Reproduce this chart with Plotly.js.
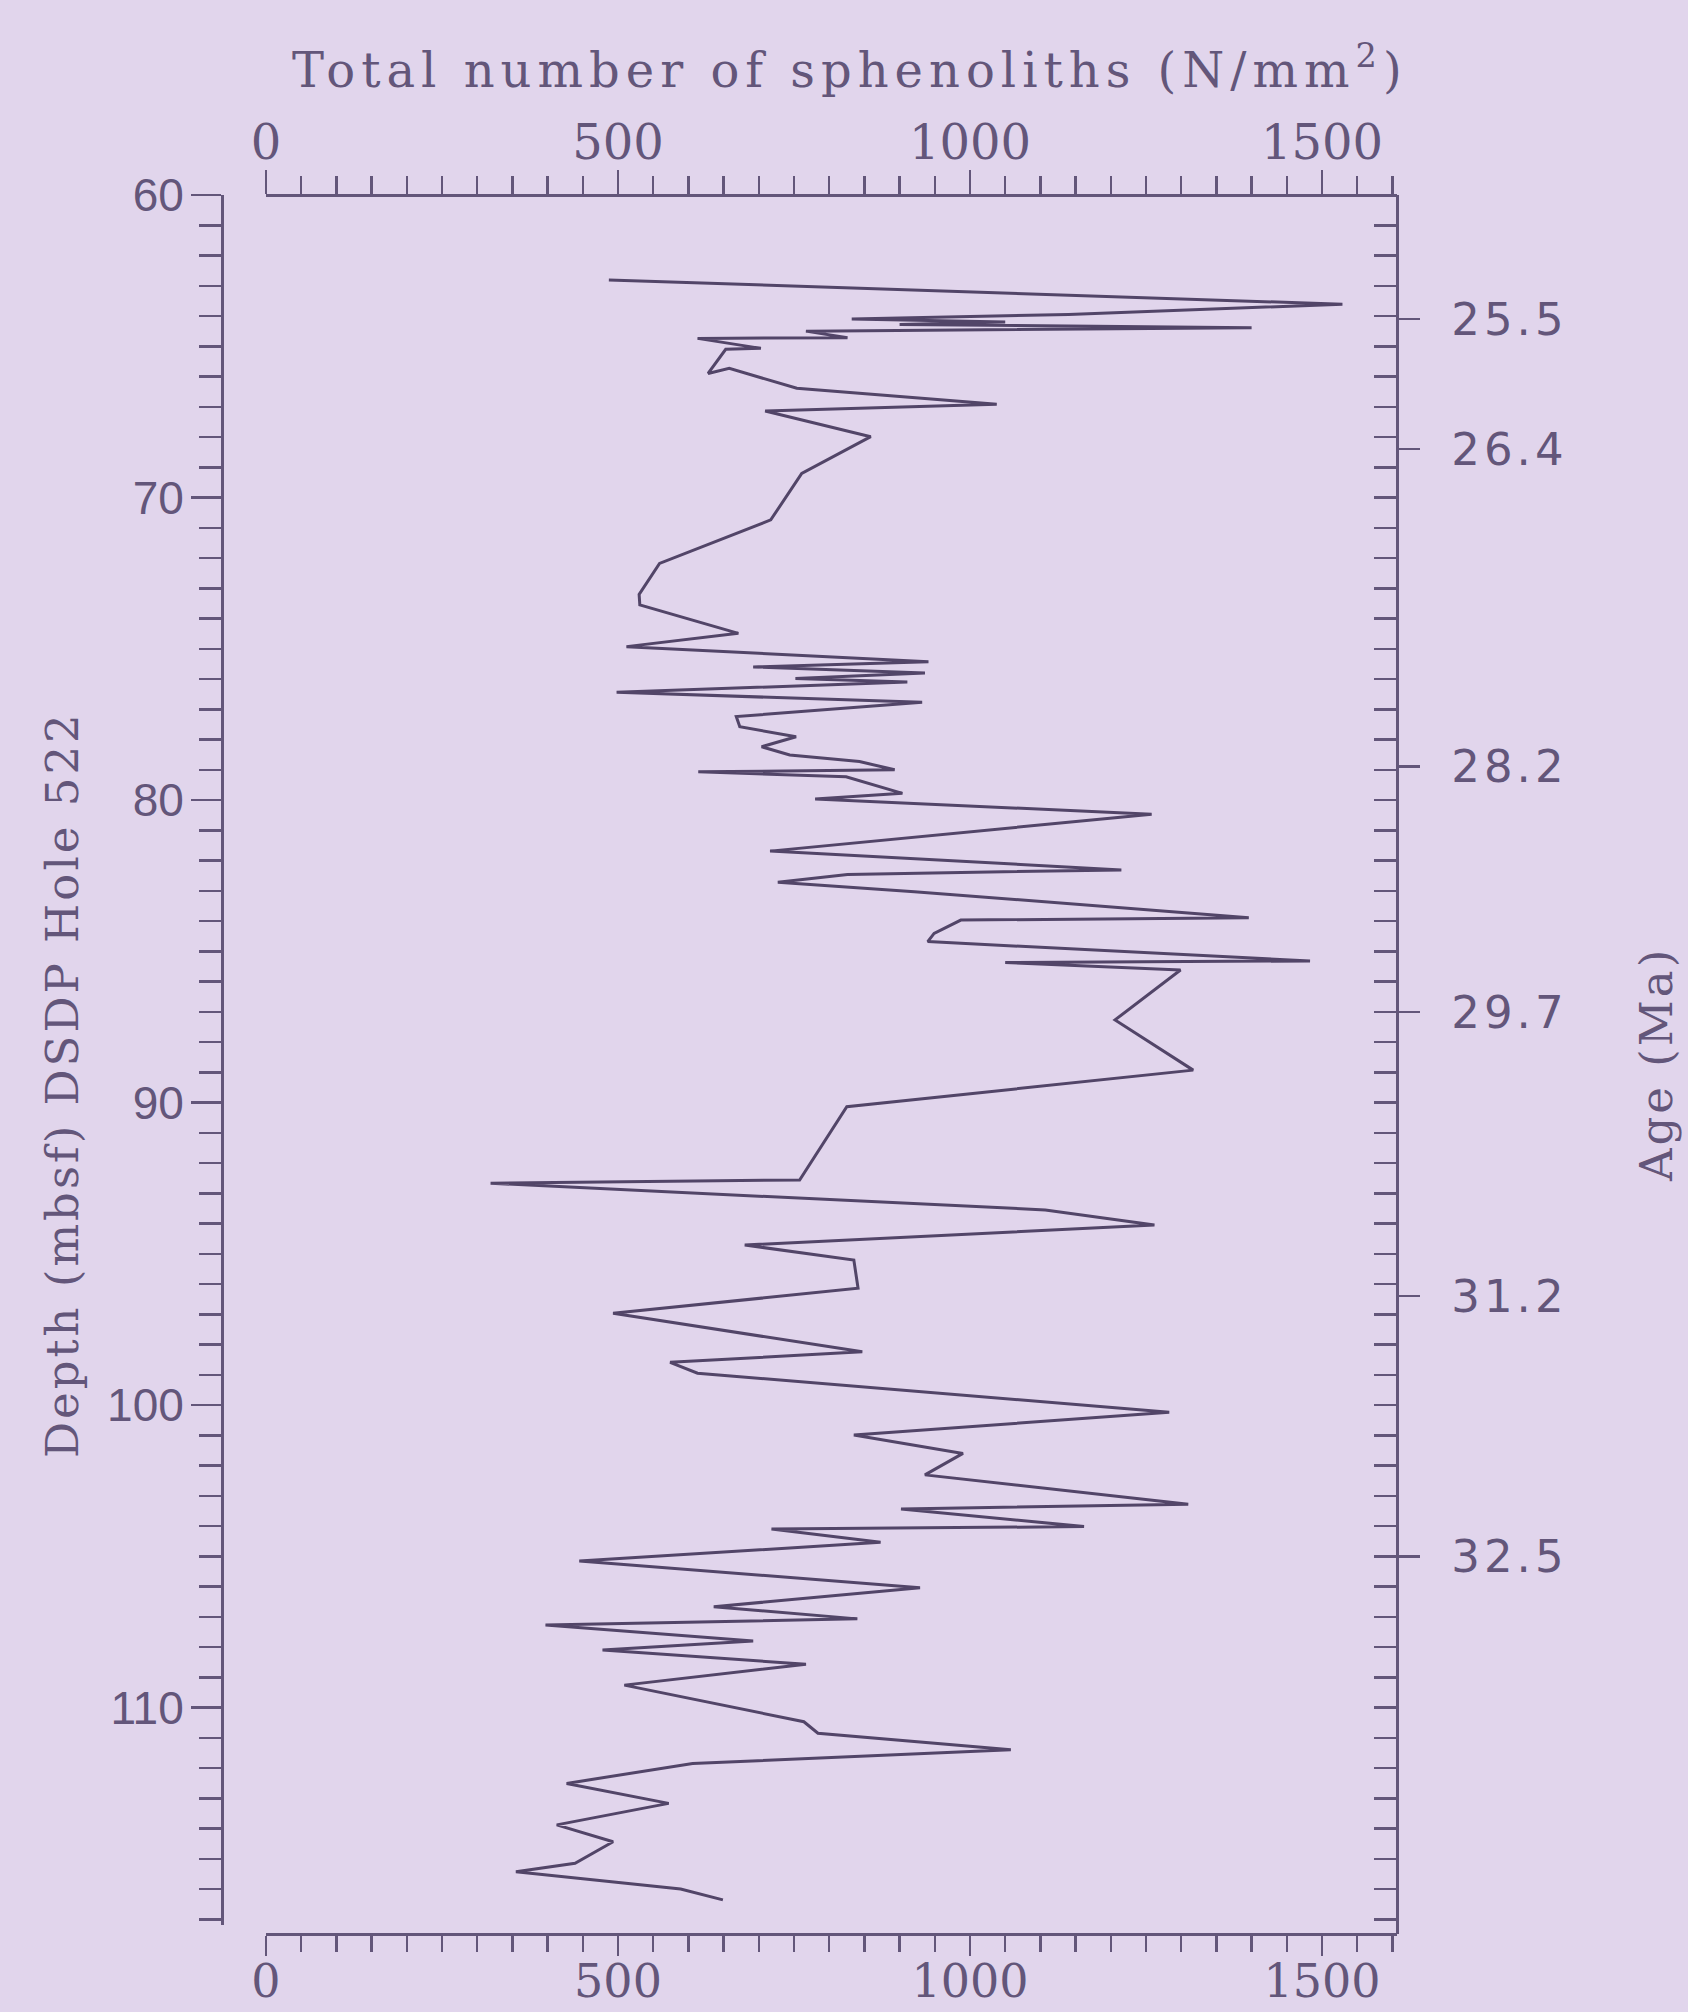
<!DOCTYPE html>
<html><head><meta charset="utf-8">
<script src="https://cdn.plot.ly/plotly-3.0.1.min.js"></script>
<style>html,body{margin:0;padding:0;background:#e1d5ec;}</style>
</head><body><div id="chart" style="width:1688px;height:2012px;"></div>
<script>
// ---- data ----
const depth = [62.81, 63.61, 63.95, 64.10, 64.20, 64.28, 64.39, 64.50, 64.72, 64.74,
  65.07, 65.10, 65.90, 65.73, 66.39, 66.92, 67.14, 67.99, 69.20, 70.74,
  72.18, 73.20, 73.55, 74.49, 74.93, 75.43, 75.60, 75.80, 75.98, 76.10,
  76.44, 76.77, 77.24, 77.58, 77.91, 78.24, 78.51, 78.73, 79.00, 79.07,
  79.23, 79.78, 79.97, 80.47, 81.69, 82.31, 82.46, 82.72, 83.03, 83.89,
  83.97, 84.41, 84.68, 85.32, 85.37, 85.62, 87.27, 88.93, 90.14, 92.56,
  92.67, 93.55, 94.05, 94.71, 95.21, 96.14, 96.97, 98.24, 98.59, 98.95,
  100.24, 100.99, 101.60, 102.31, 103.28, 103.44, 104.02, 104.10, 104.54, 105.16,
  106.04, 106.67, 107.07, 107.27, 107.80, 108.10, 108.57, 109.26, 110.47, 110.85,
  111.40, 111.85, 112.51, 113.17, 113.88, 114.44, 115.15, 115.43, 116.00, 116.36];
const sphenoliths = [487, 1529, 1140, 832, 1050, 900, 1400, 767, 826, 613,
  703, 653, 628, 658, 754, 1038, 709, 859, 761, 717,
  559, 530, 531, 671, 512, 941, 692, 936, 752, 911,
  498, 932, 668, 673, 753, 704, 744, 843, 893, 614,
  824, 904, 780, 1258, 716, 1215, 826, 727, 921, 1396,
  987, 949, 940, 1483, 1050, 1299, 1206, 1317, 825, 758,
  319, 1107, 1262, 680, 835, 841, 493, 847, 574, 613,
  1283, 835, 990, 936, 1310, 902, 1162, 718, 873, 445,
  929, 636, 840, 397, 692, 478, 767, 509, 764, 784,
  1058, 606, 427, 572, 413, 493, 439, 355, 589, 649];
const countTicks = [0, 500, 1000, 1500];
const depthTicks = [60, 70, 80, 90, 100, 110];
const ageDepths = [64.1, 68.4, 78.9, 87.0, 96.4, 105.0];
const ageLabels = ['25.5', '26.4', '28.2', '29.7', '31.2', '32.5'];
const titleTop = 'Total number of sphenoliths (N/mm<sup>2</sup>)';
const titleLeft = 'Depth (mbsf) DSDP Hole 522';
const titleRight = 'Age (Ma)';

// ---- layout geometry (pixels of the 1688x2012 page) ----
const W = 1688, H = 2012;
const X0 = 266, XS = 0.704, XMAX = 1607;
const Y0 = 195, YS = 30.25;
const leftBottom = 117.2, frameBottom = 117.5;
const fx = px => px / W;
const fy = py => 1 - py / H;
const xDom = [fx(X0), fx(X0 + XS * XMAX)];
const yDomLeft = [fy(Y0 + YS * (leftBottom - 60)), fy(Y0)];
const yDomRight = [fy(Y0 + YS * (frameBottom - 60)), fy(Y0)];
const bottomPos = yDomRight[0];
const topPos = yDomRight[1];
const leftPos = fx(222);

const BG = '#e1d5ec';
const INK = '#63567a';
const LINE = '#524568';

const serif = 'DejaVu Serif';
const spaced = (t, s) => '<span style="letter-spacing:' + s + 'px">' + t + '</span>';
const common = {showgrid: false, zeroline: false, showline: true, linecolor: INK, linewidth: 3,
  tickcolor: INK, tickwidth: 2.5};

const xStep = countTicks[1] - countTicks[0];
const dStep = depthTicks[1] - depthTicks[0];

const traces = [
  {x: sphenoliths, y: depth, type: 'scatter', mode: 'lines', xaxis: 'x', yaxis: 'y',
   line: {color: LINE, width: 3}, hoverinfo: 'skip', showlegend: false},
  {x: [], y: [], type: 'scatter', mode: 'lines', xaxis: 'x2', yaxis: 'y2', showlegend: false, hoverinfo: 'skip'},
  {x: [], y: [], type: 'scatter', mode: 'lines', xaxis: 'x2', yaxis: 'y3', showlegend: false, hoverinfo: 'skip'}
];

const layout = {
  width: W, height: H,
  margin: {l: 0, r: 0, t: 0, b: 0, pad: 0},
  paper_bgcolor: BG, plot_bgcolor: 'rgba(0,0,0,0)',
  showlegend: false,
  xaxis: Object.assign({}, common, {
    domain: xDom, range: [0, XMAX], anchor: 'free', position: bottomPos, side: 'bottom',
    tickmode: 'linear', tick0: countTicks[0], dtick: xStep,
    ticks: 'outside', ticklen: 20,
    minor: {dtick: xStep / 10, tick0: 0, ticks: 'outside', ticklen: 16, tickwidth: 2.5, tickcolor: INK, showgrid: false},
    tickfont: {family: serif, size: 46, color: INK}, ticklabelstandoff: -15
  }),
  xaxis2: Object.assign({}, common, {
    overlaying: 'x', range: [0, XMAX], anchor: 'free', position: topPos, side: 'top',
    tickmode: 'linear', tick0: countTicks[0], dtick: xStep,
    ticks: 'outside', ticklen: 24,
    minor: {dtick: xStep / 10, tick0: 0, ticks: 'outside', ticklen: 18, tickwidth: 2.5, tickcolor: INK, showgrid: false},
    tickfont: {family: serif, size: 48, color: INK}, ticklabelstandoff: -8
  }),
  yaxis: Object.assign({}, common, {
    domain: yDomLeft, range: [leftBottom, 60], anchor: 'free', position: leftPos, side: 'left',
    tickmode: 'linear', tick0: depthTicks[0], dtick: dStep,
    ticks: 'outside', ticklen: 30,
    minor: {dtick: dStep / 10, tick0: 60, ticks: 'outside', ticklen: 22, tickwidth: 2.5, tickcolor: INK, showgrid: false},
    tickfont: {family: 'Liberation Sans', size: 46, color: INK}, ticklabelstandoff: -2
  }),
  yaxis2: Object.assign({}, common, {
    domain: yDomRight, range: [frameBottom, 60], anchor: 'free', position: xDom[1], side: 'right',
    tickmode: 'linear', tick0: 60, dtick: 1, ticks: 'inside', ticklen: 22, showticklabels: false
  }),
  yaxis3: Object.assign({}, common, {
    overlaying: 'y2', range: [frameBottom, 60], anchor: 'free', position: xDom[1], side: 'right',
    showline: false, tickmode: 'array', tickvals: ageDepths,
    ticktext: ageLabels.map(t => spaced(t, 4)),
    ticks: 'outside', ticklen: 22,
    tickfont: {family: 'DejaVu Sans', size: 45, color: INK}, ticklabelstandoff: 22
  }),
  annotations: [
    {text: spaced(titleTop, 6), xref: 'paper', yref: 'paper', x: fx(850), y: fy(67),
     xanchor: 'center', yanchor: 'middle', showarrow: false,
     font: {family: serif, size: 48, color: INK}},
    {text: spaced(titleLeft, 3), xref: 'paper', yref: 'paper', x: fx(62), y: fy(1085),
     xanchor: 'center', yanchor: 'middle', showarrow: false, textangle: -90,
     font: {family: serif, size: 45, color: INK}},
    {text: spaced(titleRight, 3), xref: 'paper', yref: 'paper', x: fx(1656), y: fy(1065),
     xanchor: 'center', yanchor: 'middle', showarrow: false, textangle: -90,
     font: {family: serif, size: 45, color: INK}}
  ]
};

Plotly.newPlot('chart', traces, layout, {staticPlot: true, displayModeBar: false});
</script>
</body></html>
